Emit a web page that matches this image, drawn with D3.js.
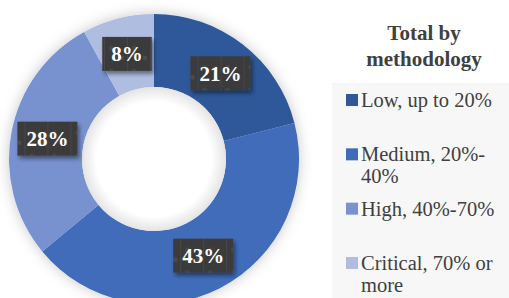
<!DOCTYPE html>
<html>
<head>
<meta charset="utf-8">
<script src="https://d3js.org/d3.v7.min.js"></script>
<style>
  body { margin: 0; background: #fff; }
  svg { display: block; font-family: "Liberation Serif", "Times New Roman", serif; }
</style>
</head>
<body>
<svg id="chart" width="509" height="298"></svg>
<script>
// data
var categories = ["Low, up to 20%", "Medium, 20%-40%", "High, 40%-70%", "Critical, 70% or more"];
var legendLines = [["Low, up to 20%"], ["Medium, 20%-", "40%"], ["High, 40%-70%"], ["Critical, 70% or", "more"]];
var shares = [21, 43, 28, 8];
var colors = ["#2f5899", "#3f6cb9", "#7891cf", "#afbde0"];
var title = ["Total by", "methodology"];

var svg = d3.select("#chart");
var defs = svg.append("defs");

// soft glow behind the ring
var glow = defs.append("filter").attr("id", "glow")
  .attr("x", "-20%").attr("y", "-20%").attr("width", "140%").attr("height", "140%");
glow.append("feDropShadow").attr("dx", 0).attr("dy", 0)
  .attr("stdDeviation", 7).attr("flood-color", "#000").attr("flood-opacity", 0.22);

// shadow for the label boxes
var boxShadow = defs.append("filter").attr("id", "boxShadow")
  .attr("x", "-30%").attr("y", "-30%").attr("width", "160%").attr("height", "160%");
boxShadow.append("feDropShadow").attr("dx", 2).attr("dy", 3)
  .attr("stdDeviation", 2).attr("flood-color", "#000").attr("flood-opacity", 0.45);

// textured dark fill for the label boxes
var pat = defs.append("pattern").attr("id", "tex")
  .attr("patternUnits", "userSpaceOnUse").attr("width", 23).attr("height", 23);
pat.append("rect").attr("width", 23).attr("height", 23).attr("fill", "#3b3b3b");
pat.append("path").attr("d", "M0.5 0V23").attr("stroke", "#474747").attr("stroke-width", 1);
pat.append("rect").attr("x", 16).attr("y", 2).attr("width", 4).attr("height", 4).attr("fill", "#4b4b4b");
pat.append("rect").attr("x", 5).attr("y", 15).attr("width", 4).attr("height", 4).attr("fill", "#474747");

// legend panel
svg.append("rect")
  .attr("x", 332).attr("y", 83).attr("width", 177).attr("height", 215)
  .attr("fill", "#f7f7f7");

// donut
var cx = 154, cy = 159, outerR = 145, innerR = 72;
var g = svg.append("g").attr("transform", "translate(" + cx + "," + cy + ")");

var pie = d3.pie().sort(null).value(function(d) { return d; });
var arc = d3.arc().innerRadius(innerR).outerRadius(outerR);
var arcs = pie(shares);

g.append("g").attr("filter", "url(#glow)")
  .selectAll("path")
  .data(arcs)
  .enter()
  .append("path")
    .attr("d", arc)
    .attr("fill", function(d, i) { return colors[i]; });

// hole shading
var hole = defs.append("radialGradient").attr("id", "hole")
  .attr("cx", "50%").attr("cy", "50%").attr("r", "50%");
hole.append("stop").attr("offset", "80%").attr("stop-color", "#fff");
hole.append("stop").attr("offset", "100%").attr("stop-color", "#e4e4e4");
g.append("circle").attr("r", innerR).attr("fill", "url(#hole)");

// data labels
var labels = g.selectAll("g.lbl")
  .data(arcs)
  .enter()
  .append("g")
    .attr("class", "lbl")
    .attr("transform", function(d) { return "translate(" + arc.centroid(d) + ")"; });

labels.append("text")
  .attr("text-anchor", "middle")
  .attr("dy", "0.35em")
  .attr("font-size", 21)
  .attr("font-weight", "bold")
  .attr("fill", "#fff")
  .text(function(d) { return d.data + "%"; })
  .each(function() {
    var b = this.getBBox();
    var w = b.width + 18, h = 34;
    d3.select(this.parentNode).insert("rect", "text")
      .attr("x", -w / 2).attr("y", -h / 2)
      .attr("width", w).attr("height", h)
      .attr("fill", "url(#tex)")
      .attr("filter", "url(#boxShadow)");
  });

// legend title
svg.append("text")
  .attr("x", 424).attr("y", 40)
  .attr("text-anchor", "middle")
  .attr("font-size", 21)
  .attr("font-weight", "bold")
  .attr("fill", "#404040")
  .selectAll("tspan")
  .data(title)
  .enter()
  .append("tspan")
    .attr("x", 424)
    .attr("dy", function(d, i) { return i ? 26 : 0; })
    .text(function(d) { return d; });

// legend items
var ly = d3.scalePoint().domain(categories).range([107, 270]);
var items = svg.selectAll("g.item")
  .data(categories)
  .enter()
  .append("g")
    .attr("class", "item")
    .attr("transform", function(d) { return "translate(346," + ly(d) + ")"; });

items.append("rect")
  .attr("x", 0).attr("y", -13)
  .attr("width", 12).attr("height", 12)
  .attr("fill", function(d, i) { return colors[i]; });

items.append("text")
  .attr("x", 15)
  .attr("font-size", 20.5)
  .attr("fill", "#404040")
  .selectAll("tspan")
  .data(function(d, i) { return legendLines[i]; })
  .enter()
  .append("tspan")
    .attr("x", 15)
    .attr("dy", function(d, i) { return i ? 22 : 0; })
    .text(function(d) { return d; });
</script>
</body>
</html>
